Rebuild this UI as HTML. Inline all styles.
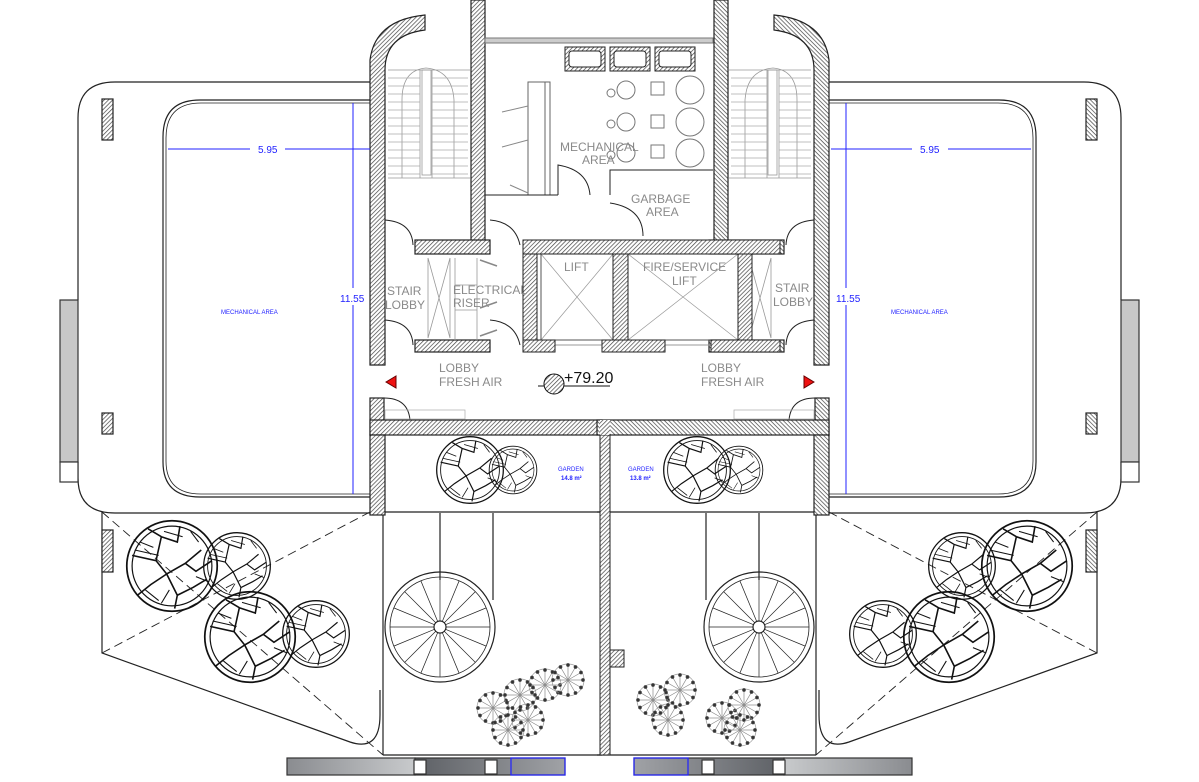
<!DOCTYPE html>
<html><head><meta charset="utf-8"><style>
html,body{margin:0;padding:0;background:#fff;}
svg{display:block;font-family:"Liberation Sans",sans-serif;}
</style></head><body>
<svg id="s" width="1199" height="782" viewBox="0 0 1199 782" xmlns="http://www.w3.org/2000/svg">
<defs>
<pattern id="h" width="3" height="3" patternUnits="userSpaceOnUse" patternTransform="rotate(45)">
<rect width="3" height="3" fill="#fff"/><line x1="0" y1="0" x2="0" y2="3" stroke="#444" stroke-width="1.4"/></pattern>
<linearGradient id="g1" x1="0" x2="1"><stop offset="0" stop-color="#8a8c90"/><stop offset="1" stop-color="#c8cacc"/></linearGradient>
<linearGradient id="g2" x1="0" x2="1"><stop offset="0" stop-color="#5d6065"/><stop offset="1" stop-color="#a0a2a6"/></linearGradient>
<g id="half" fill="none" stroke="#222" stroke-width="1.2">
 <path d="M370 82 H115 Q78 82 78 118 V300 M78 462 V478 Q78 513 115 513 H370"/>
 <rect x="60" y="300" width="18" height="162" fill="#c8c8c8" stroke="#333"/>
 <rect x="60" y="462" width="18" height="20" fill="#fff" stroke="#333"/>
 <path d="M370 100 H200 Q163 100 163 137 V462 Q163 497 200 497 H370"/>
 <path d="M370 103 H201 Q166 103 166 138 V461 Q166 494 201 494 H370" stroke-width="0.8"/>
 <rect x="102" y="99" width="11" height="41" fill="url(#h)"/>
 <rect x="102" y="413" width="11" height="21" fill="url(#h)"/>
 <path d="M102 512 V653 L350 742 Q380 752 380 715 V690"/>
 <path d="M102 512 L383 755 M102 653 L370 512" stroke-dasharray="9 5" stroke-width="0.9"/>
 <rect x="102" y="530" width="11" height="42" fill="url(#h)"/>
 <path d="M383 755 V512 M383 755 H602"/>
 <path d="M370 365 V60 Q375 20 425 15 V30 Q385 35 385 70 V365 Z" fill="url(#h)"/>
 <rect x="471" y="0" width="14" height="245" fill="url(#h)"/>
 <rect x="415" y="240" width="75" height="14" fill="url(#h)"/>
 <rect x="415" y="340" width="75" height="12" fill="url(#h)"/>
 <rect x="370" y="398" width="14" height="37" fill="url(#h)"/>
 <rect x="370" y="420" width="232" height="15" fill="url(#h)"/>
 <rect x="370" y="435" width="15" height="80" fill="url(#h)"/>
 <path d="M385 512 H602"/>
 <g stroke="#999" stroke-width="0.8">
  <path d="M388 70 H470 M388 178 H470 M420 70 V178 M432 70 V178 M402 178 V100 Q402 70 426 68 Q452 70 454 100 V178"/>
  <rect x="422" y="70" width="9" height="105"/>
 </g>
 <g id="tr" stroke="#aaa" stroke-width="0.7"></g>
 <path d="M385 220 Q412 222 413 245 M385 320 Q412 322 413 345" stroke-width="1"/>
 <path d="M384 398 Q408 398 410 420" stroke-width="1"/>
 <path d="M428 258 V338 M450 258 V338 M428 258 L450 338 M450 258 L428 338" stroke="#999" stroke-width="0.8"/>
 <rect x="385" y="410" width="80" height="9" stroke="#aaa" stroke-width="0.7"/>
 <circle cx="440" cy="627" r="55"/><circle cx="440" cy="627" r="50" stroke-width="0.8"/>
 <circle cx="440" cy="627" r="6" fill="#fff"/>
 <g id="sp" stroke-width="0.7"></g>
 <path d="M440 513 V580 M493 513 V600" />
 <rect x="287" y="758" width="128" height="17" fill="url(#g1)" stroke="#333"/>
 <rect x="415" y="758" width="150" height="17" fill="url(#g2)" stroke="#333"/>
 <rect x="511" y="758" width="54" height="17" stroke="#22f" fill="none"/>
 <rect x="414" y="760" width="12" height="14" fill="#fff" stroke="#333"/>
 <rect x="485" y="760" width="12" height="14" fill="#fff" stroke="#333"/>
</g>
<g id="tree">
 <circle r="34" fill="none" stroke="#111" stroke-width="1.3"/>
 <circle r="30" fill="none" stroke="#111" stroke-width="0.9"/>
 <path d="M-30 -8 L-12 -4 L-8 -22 L4 -18 L6 -30 M-12 -4 L-4 6 L10 -2 L22 -12 M-4 6 L-16 14 L-26 22 M-4 6 L4 22 L16 16 L26 10 M4 22 L2 32 M10 -2 L18 4 L30 -4 M-8 -22 L-18 -28" fill="none" stroke="#111" stroke-width="1.2"/>
 <path d="M-28 -12 L-10 -8 M-6 -26 L8 -22 M18 8 L28 12 M-20 18 L-10 26 M-24 -18 L-14 -14 M14 -26 L20 -18 M-8 28 L-2 18" stroke="#111" stroke-width="0.8"/>
</g>
</defs>
<use href="#half"/>
<use href="#half" transform="translate(1199,0) scale(-1,1)"/>
<rect x="600" y="435" width="10" height="320" fill="url(#h)" stroke="#222"/>
<rect x="610" y="650" width="14" height="17" fill="url(#h)" stroke="#222"/>
<rect x="485" y="38" width="228" height="5" fill="#ccc" stroke="#777"/>
<g fill="none" stroke="#222">
 <rect x="565" y="47" width="40" height="24" fill="url(#h)"/><rect x="569" y="51" width="32" height="16" fill="#fff" rx="3"/>
 <rect x="610" y="47" width="40" height="24" fill="url(#h)"/><rect x="614" y="51" width="32" height="16" fill="#fff" rx="3"/>
 <rect x="655" y="47" width="40" height="24" fill="url(#h)"/><rect x="659" y="51" width="32" height="16" fill="#fff" rx="3"/>
 <path d="M528 82 H550 V195 H528 Z M545 82 V195" stroke="#666"/>
 <path d="M502 112 L528 106 M502 147 L528 140 M510 185 L528 193" stroke="#888"/>
 <path d="M485 195 H558 M558 195 V165 Q588 170 590 195 M610 195 V170 H713 M610 203 Q643 208 643 236" stroke-width="1"/>
 <g stroke="#777">
  <circle cx="626" cy="90" r="9"/><circle cx="626" cy="122" r="9"/><circle cx="626" cy="153" r="9"/>
  <rect x="651" y="82" width="13" height="13"/><rect x="651" y="115" width="13" height="13"/><rect x="651" y="145" width="13" height="13"/>
  <circle cx="690" cy="90" r="14"/><circle cx="690" cy="122" r="14"/><circle cx="690" cy="153" r="14"/>
  <circle cx="611" cy="93" r="4"/><circle cx="611" cy="124" r="4"/><circle cx="611" cy="155" r="4"/>
 </g>
 <!-- riser / doors -->
 <path d="M455 258 V340 M477 258 V340 M455 285 H477 M455 310 H477" stroke="#999" stroke-width="0.8"/>
 <path d="M480 260 L497 266 M480 308 L497 302 M480 336 L497 330" stroke="#888" stroke-width="1.5"/>
 <path d="M490 220 Q515 222 520 245 M490 320 Q515 322 520 345" stroke-width="1"/>
 <!-- lifts -->
 <rect x="541" y="254" width="72" height="86" stroke="#555"/>
 <path d="M541 254 L613 340 M613 254 L541 340" stroke="#999" stroke-width="0.7"/>
 <rect x="628" y="254" width="110" height="86" stroke="#555"/>
 <path d="M628 254 L738 340 M738 254 L628 340" stroke="#999" stroke-width="0.7"/>
 <path d="M555 345 H602 M665 345 H711" stroke="#999"/>
</g>
<g fill="url(#h)" stroke="#222">
 <rect x="523" y="240" width="257" height="14"/>
 <rect x="523" y="254" width="14" height="90"/>
 <rect x="613" y="254" width="15" height="90"/>
 <rect x="738" y="254" width="14" height="90"/>
 <rect x="523" y="340" width="32" height="12"/>
 <rect x="602" y="340" width="63" height="12"/>
 <rect x="711" y="340" width="69" height="12"/>
</g>
<rect x="600" y="420" width="10" height="15" fill="url(#h)"/>
<g id="trees"></g>
<g fill="#8a8a8a" font-size="12">
 <text x="560" y="151">MECHANICAL</text><text x="582" y="164">AREA</text>
 <text x="631" y="203">GARBAGE</text><text x="646" y="216">AREA</text>
 <text x="564" y="271">LIFT</text>
 <text x="643" y="271">FIRE/SERVICE</text><text x="672" y="285">LIFT</text>
 <text x="387" y="295">STAIR</text><text x="385" y="309">LOBBY</text>
 <text x="453" y="294">ELECTRICAL</text><text x="453" y="307">RISER</text>
 <text x="775" y="292">STAIR</text><text x="773" y="306">LOBBY</text>
 <text x="439" y="372">LOBBY</text><text x="439" y="386">FRESH AIR</text>
 <text x="701" y="372">LOBBY</text><text x="701" y="386">FRESH AIR</text>
</g>
<text x="564" y="383" font-size="16" fill="#111">+79.20</text>
<line x1="538" y1="386" x2="610" y2="386" stroke="#111"/>
<circle cx="554" cy="384" r="10" fill="url(#h)" stroke="#111"/>
<path d="M386 382 L396 376 V388 Z M814 382 L804 376 V388 Z" fill="#e11" stroke="#600"/>
<g fill="#22f" stroke="#22f" font-size="10">
 <line x1="168" y1="149" x2="250" y2="149"/><line x1="285" y1="149" x2="370" y2="149"/>
 <line x1="353" y1="103" x2="353" y2="288"/><line x1="353" y1="305" x2="353" y2="494"/>
 <line x1="831" y1="149" x2="912" y2="149"/><line x1="948" y1="149" x2="1031" y2="149"/>
 <line x1="846" y1="103" x2="846" y2="288"/><line x1="846" y1="305" x2="846" y2="494"/>
 <text x="258" y="153" stroke="none">5.95</text><text x="920" y="153" stroke="none">5.95</text>
 <text x="340" y="302" stroke="none">11.55</text><text x="836" y="302" stroke="none">11.55</text>
 <text x="221" y="314" stroke="none" font-size="6">MECHANICAL AREA</text>
 <text x="891" y="314" stroke="none" font-size="6">MECHANICAL AREA</text>
 <text x="558" y="471" stroke="none" font-size="6">GARDEN</text>
 <text x="561" y="480" stroke="none" font-size="6" font-weight="bold">14.8 m²</text>
 <text x="628" y="471" stroke="none" font-size="6">GARDEN</text>
 <text x="630" y="480" stroke="none" font-size="6" font-weight="bold">13.8 m²</text>
</g>
<script>
var NS="http://www.w3.org/2000/svg";
function el(p,t,a){var e=document.createElementNS(NS,t);for(var k in a)e.setAttribute(k,a[k]);p.appendChild(e);return e;}
var tr=document.getElementById("tr");
for(var y=78;y<176;y+=8){el(tr,"line",{x1:388,y1:y,x2:420,y2:y});el(tr,"line",{x1:432,y1:y,x2:468,y2:y});}
var sp=document.getElementById("sp");
for(var i=0;i<16;i++){var a=i*Math.PI/8;el(sp,"line",{x1:440+6*Math.cos(a),y1:627+6*Math.sin(a),x2:440+50*Math.cos(a),y2:627+50*Math.sin(a)});}
var T=document.getElementById("trees");
[[172,566,1.33],[237,566,0.98],[250,637,1.33],[316,634,0.98],[470,470,0.98],[513,470,0.7],[697,470,0.98],[739,470,0.7],[1027,566,1.33],[962,566,0.98],[949,637,1.33],[883,634,0.98]].forEach(function(t){
 el(T,"use",{href:"#tree",transform:"translate("+t[0]+","+t[1]+") scale("+t[2]+")"});});
[[493,708],[520,695],[545,685],[568,680],[528,720],[508,730],[653,700],[680,690],[668,720],[722,718],[744,705],[740,730]].forEach(function(p){
 var g=el(T,"g",{transform:"translate("+p[0]+","+p[1]+")",stroke:"#444",fill:"none","stroke-width":"0.7"});
 el(g,"circle",{r:16,stroke:"#999"});
 for(var i=0;i<12;i++){var a=i*Math.PI/6;var x=15*Math.cos(a),y=15*Math.sin(a);el(g,"line",{x1:0,y1:0,x2:x,y2:y,stroke:"#888"});el(g,"circle",{cx:x,cy:y,r:1.5,fill:"#333"});}
});
</script>
</svg>
</body></html>
